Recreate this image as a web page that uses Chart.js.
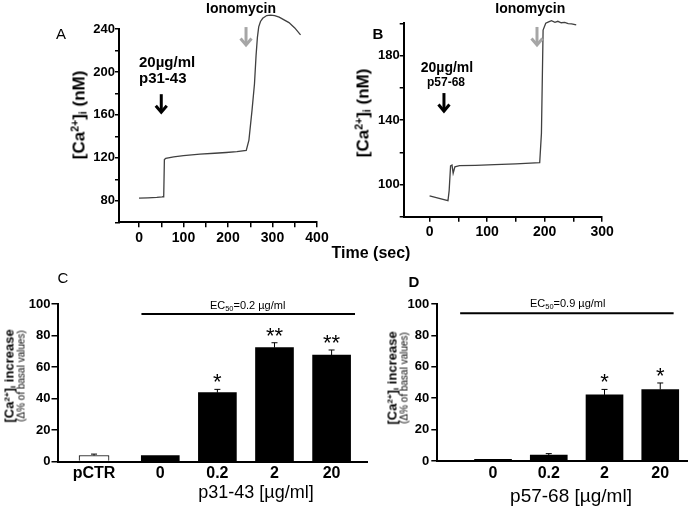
<!DOCTYPE html>
<html><head><meta charset="utf-8">
<script src="https://cdn.jsdelivr.net/npm/chart.js@4/dist/chart.umd.min.js"></script>
<style>
html,body{margin:0;padding:0;background:#fff;}
#wrap{position:relative;width:689px;height:507px;overflow:hidden;font-family:"Liberation Sans",Arial,sans-serif;color:#000;}
canvas{position:absolute;left:0;top:0;}
.t{position:absolute;white-space:nowrap;transform:translate(-50%,-50%);line-height:1;}
.r{transform:translate(-50%,-50%) rotate(-90deg);}
sup{font-size:0.62em;vertical-align:0.55em;line-height:0;}
sub{font-size:0.62em;vertical-align:-0.2em;line-height:0;}
</style></head>
<body><div id="wrap">
<canvas id="cA" width="689" height="507"></canvas>
<canvas id="cB" width="689" height="507"></canvas>
<canvas id="cC" width="689" height="507"></canvas>
<canvas id="cD" width="689" height="507"></canvas>
<div class="t" style="left:61px;top:33px;font-size:15px;">A</div>
<div class="t" style="left:378px;top:33px;font-size:15px;font-weight:bold;">B</div>
<div class="t" style="left:63px;top:277px;font-size:15px;">C</div>
<div class="t" style="left:414px;top:281px;font-size:15px;font-weight:bold;">D</div>
<div class="t" style="left:371px;top:253px;font-size:16px;font-weight:bold;">Time (sec)</div>
<div class="t r" style="left:79px;top:114.5px;font-size:17px;font-weight:bold;">[Ca<sup>2+</sup>]<sub>i</sub> (nM)</div>
<div class="t r" style="left:363px;top:112.5px;font-size:17px;font-weight:bold;">[Ca<sup>2+</sup>]<sub>i</sub> (nM)</div>
<div class="t" style="left:256px;top:492px;font-size:18px;">p31-43 [µg/ml]</div>
<div class="t" style="left:571px;top:495px;font-size:19px;">p57-68 [µg/ml]</div>
<div class="t r" style="left:14.5px;top:376px;text-align:center;"><div style="font-size:13px;font-weight:bold;line-height:12px;">[Ca<sup>2+</sup>]<sub>i</sub> increase</div><div style="font-size:10px;line-height:11px;">(Δ% of basal values)</div></div>
<div class="t r" style="left:397.5px;top:378px;text-align:center;"><div style="font-size:13px;font-weight:bold;line-height:12px;">[Ca<sup>2+</sup>]<sub>i</sub> increase</div><div style="font-size:10px;line-height:11px;">(Δ% of basal values)</div></div>
</div>
<script>
// ---------- data ----------
const timeA = [0, 20, 40, 52, 54, 55, 56, 57, 60, 78, 100, 137, 170, 196, 220, 241, 247, 254, 259.5, 263, 266, 269, 273, 278, 287, 296, 305, 315, 326, 337, 350, 363];
const caA   = [82.5, 82.8, 83.2, 83.6, 83.8, 85, 84, 118.5, 119.5, 121, 122, 123.5, 124.3, 125, 125.8, 127, 136.6, 164.5, 189, 215, 232, 242, 247, 250, 252.5, 253, 252.5, 251, 248.5, 246, 241, 234.5];
const timeB = [0, 15, 32, 34, 36.5, 39, 41, 44, 52, 80, 113, 150, 191.5, 194.5, 197.4, 202, 207, 212, 218, 223, 229, 235, 241, 247, 255];
const caB   = [92.9, 91.5, 90, 96, 111.5, 112, 107, 111, 111.7, 111.9, 112.3, 112.8, 113.5, 131.7, 195.8, 200, 200.8, 201.6, 200.6, 201.2, 200.3, 200.5, 199.8, 199.6, 199];

const xTicksA  = [0, 50, 100, 150, 200, 250, 300, 350, 400];
const xLabelsA = [0, 100, 200, 300, 400];
const yTicksA  = [60, 80, 100, 120, 140, 160, 180, 200, 220, 240];
const yLabelsA = [80, 120, 160, 200, 240];
const xTicksB  = [0, 50, 100, 150, 200, 250, 300];
const xLabelsB = [0, 100, 200, 300];
const yTicksB  = [80, 100, 120, 140, 160, 180, 200];
const yLabelsB = [100, 140, 180];

const catC = ['pCTR', '0', '0.2', '2', '20'];
const posC = [-1.16, 0, 1, 2, 3];
const valC = [3.8, 3.8, 43.7, 72.3, 67.6];
const errC = [0.9, 0, 2.1, 3.1, 3.2];
const sigC = ['', '', '*', '**', '**'];

const catD = ['0', '0.2', '2', '20'];
const posD = [0, 1, 2, 3];
const valD = [1.1, 3.8, 42.1, 45.5];
const errD = [0, 0.9, 3.5, 4.2];
const sigD = ['', '', '*', '*'];

const yTicksBar = [0, 20, 40, 60, 80, 100];

// ---------- helpers ----------
const FF = '"Liberation Sans", Arial, sans-serif';
Chart.defaults.font.family = FF;
Chart.defaults.color = '#000';
const PW = 689, PH = 507;
function frame(L, T, R, B, yw, xh) {
  return { padding: { left: L - yw, top: T, right: PW - R, bottom: PH - B - xh } };
}
function drawRich(ctx, parts, cx, cy, size, weight, align) {
  const fontOf = p => `${weight} ${p.sub ? size * 0.68 : size}px ${FF}`;
  let w = 0;
  parts.forEach(p => { ctx.font = fontOf(p); w += ctx.measureText(p.t).width; });
  let x = align === 'left' ? cx : cx - w / 2;
  ctx.textAlign = 'left'; ctx.textBaseline = 'alphabetic';
  const base = cy + size * 0.36;
  parts.forEach(p => {
    ctx.font = fontOf(p);
    ctx.fillText(p.t, x, base + (p.sub ? size * 0.22 : 0));
    x += ctx.measureText(p.t).width;
  });
}
function makeExtras(cfg) {
  return {
    id: 'extras',
    afterDatasetsDraw(chart) {
      const ctx = chart.ctx, ys = chart.scales.y;
      ctx.save();
      chart.data.datasets.forEach((ds, di) => {
        if (!ds.errs) return;
        const meta = chart.getDatasetMeta(di);
        meta.data.forEach((bar, i) => {
          const v = ds.data[i].y, e = ds.errs[i];
          const yTop = ys.getPixelForValue(v + e);
          ctx.strokeStyle = '#000'; ctx.lineWidth = 1;
          if (e > 0) {
            ctx.beginPath();
            ctx.moveTo(bar.x, bar.y); ctx.lineTo(bar.x, yTop);
            ctx.moveTo(bar.x - 3, yTop); ctx.lineTo(bar.x + 3, yTop);
            ctx.stroke();
          }
          if (ds.sig[i]) {
            ctx.fillStyle = '#000';
            ctx.font = `22px ${FF}`;
            ctx.textAlign = 'center'; ctx.textBaseline = 'alphabetic';
            ctx.fillText(ds.sig[i], bar.x, yTop);
          }
        });
      });
      ctx.restore();
    },
    afterDraw(chart) {
      const ctx = chart.ctx, xs = chart.scales.x, ys = chart.scales.y;
      ctx.save();
      (cfg.lines || []).forEach(l => {
        ctx.strokeStyle = '#000'; ctx.lineWidth = 2;
        ctx.beginPath();
        ctx.moveTo(xs.getPixelForValue(l.x1), ys.getPixelForValue(l.y));
        ctx.lineTo(xs.getPixelForValue(l.x2), ys.getPixelForValue(l.y));
        ctx.stroke();
      });
      (cfg.arrows || []).forEach(a => {
        const x = xs.getPixelForValue(a.x), y1 = ys.getPixelForValue(a.from), y2 = ys.getPixelForValue(a.to);
        ctx.strokeStyle = a.color; ctx.lineWidth = 3; ctx.lineCap = 'butt'; ctx.lineJoin = 'miter';
        ctx.beginPath(); ctx.moveTo(x, y1); ctx.lineTo(x, y2 - 2); ctx.stroke();
        ctx.beginPath(); ctx.moveTo(x - 5.5, y2 - 8.5); ctx.lineTo(x, y2 - 2); ctx.lineTo(x + 5.5, y2 - 8.5); ctx.stroke();
      });
      (cfg.texts || []).forEach(t => {
        ctx.fillStyle = '#000';
        drawRich(ctx, t.parts, xs.getPixelForValue(t.x), ys.getPixelForValue(t.y), t.size, t.weight || 'normal', t.align || 'center');
      });
      ctx.restore();
    }
  };
}
function tickAxis(ticksArr, labelsArr, size, tl, pad, fitKey, fitVal) {
  return {
    afterFit: s => { s[fitKey] = fitVal; },
    afterBuildTicks: s => { s.ticks = ticksArr.map(v => ({ value: v })); },
    ticks: { autoSkip: false, maxRotation: 0, padding: pad, color: '#000',
      font: { size: size, weight: 'bold' },
      callback: v => labelsArr.includes(v) ? String(v) : '' },
    grid: { drawOnChartArea: false, drawTicks: true, tickLength: tl, color: '#000', lineWidth: 1.5 },
    border: { display: true, color: '#000', width: 2 }
  };
}
const baseOpts = { responsive: false, animation: false, events: [] };
const noLegend = { legend: { display: false }, tooltip: { enabled: false } };

// ---------- Panel A ----------
new Chart(document.getElementById('cA'), {
  type: 'line',
  data: { datasets: [{ data: timeA.map((t, i) => ({ x: t, y: caA[i] })), borderColor: '#404040', borderWidth: 1.3, pointRadius: 0, tension: 0, clip: false, fill: false }] },
  options: Object.assign({}, baseOpts, {
    layout: frame(119, 29, 317, 222.3, 45, 30),
    plugins: noLegend,
    scales: {
      x: Object.assign({ type: 'linear', min: -45, max: 400 }, tickAxis(xTicksA, xLabelsA, 14, 5, 2, 'height', 30)),
      y: Object.assign({ type: 'linear', min: 60, max: 240 }, tickAxis(yTicksA, yLabelsA, 13, 4, 0, 'width', 45))
    }
  }),
  plugins: [makeExtras({
    arrows: [{ x: 50, from: 179.3, to: 160.7, color: '#000' }, { x: 240.5, from: 241.8, to: 223.2, color: '#a6a6a6' }],
    texts: [
      { parts: [{ t: '20µg/ml' }], x: 0, y: 209.2, size: 15, weight: 'bold', align: 'left' },
      { parts: [{ t: 'p31-43' }], x: 0, y: 194.3, size: 15, weight: 'bold', align: 'left' },
      { parts: [{ t: 'Ionomycin' }], x: 229.3, y: 259.5, size: 14, weight: 'bold' }
    ]
  })]
});

// ---------- Panel B ----------
new Chart(document.getElementById('cB'), {
  type: 'line',
  data: { datasets: [{ data: timeB.map((t, i) => ({ x: t, y: caB[i] })), borderColor: '#404040', borderWidth: 1.3, pointRadius: 0, tension: 0, clip: false, fill: false }] },
  options: Object.assign({}, baseOpts, {
    layout: frame(403.7, 23.25, 602.1, 216.75, 45, 30),
    plugins: noLegend,
    scales: {
      x: Object.assign({ type: 'linear', min: -45, max: 300 }, tickAxis(xTicksB, xLabelsB, 14, 5, 2, 'height', 30)),
      y: Object.assign({ type: 'linear', min: 80, max: 200 }, tickAxis(yTicksB, yLabelsB, 13, 4, 0, 'width', 45))
    }
  }),
  plugins: [makeExtras({
    arrows: [{ x: 25, from: 156.7, to: 144.3, color: '#000' }, { x: 186.8, from: 197.7, to: 185.3, color: '#a6a6a6' }],
    texts: [
      { parts: [{ t: '20µg/ml' }], x: 30.3, y: 173, size: 14, weight: 'bold' },
      { parts: [{ t: 'p57-68' }], x: 28.5, y: 163.6, size: 12, weight: 'bold' },
      { parts: [{ t: 'Ionomycin' }], x: 175.1, y: 209.5, size: 14, weight: 'bold' }
    ]
  })]
});

// ---------- bar panels ----------
function barChart(id, cats, pos, vals, errs, sigs, hasControl, xmin, xmax, area, thick, yTl, yPad, xPad, ec) {
  const datasets = [];
  const start = hasControl ? 1 : 0;
  if (hasControl) {
    datasets.push({ data: [{ x: pos[0], y: vals[0] }], errs: [errs[0]], sig: [sigs[0]],
      backgroundColor: '#fff', borderColor: '#000', borderWidth: 1, barThickness: 30, grouped: false });
  }
  datasets.push({ data: pos.slice(start).map((x, i) => ({ x: x, y: vals[i + start] })),
    errs: errs.slice(start), sig: sigs.slice(start),
    backgroundColor: '#000', borderColor: '#000', borderWidth: 0, barThickness: thick, grouped: false });
  const yAx = tickAxis(yTicksBar, yTicksBar, 13, yTl, yPad, 'width', 45);
  new Chart(document.getElementById(id), {
    type: 'bar',
    data: { datasets: datasets },
    options: Object.assign({}, baseOpts, {
      layout: frame(area[0], area[1], area[2], area[3], 45, 30),
      plugins: noLegend,
      scales: {
        x: { type: 'linear', min: xmin, max: xmax, offset: false,
          afterFit: s => { s.height = 30; },
          afterBuildTicks: s => { s.ticks = pos.map(v => ({ value: v })); },
          ticks: { autoSkip: false, maxRotation: 0, padding: xPad, color: '#000', font: { size: 16, weight: 'bold' },
            callback: (v, i) => cats[i] },
          grid: { display: false, offset: false, drawTicks: false },
          border: { display: true, color: '#000', width: 2 } },
        y: Object.assign({ type: 'linear', min: 0, max: 100 }, yAx)
      }
    }),
    plugins: [makeExtras(ec)]
  });
}

barChart('cC', catC, posC, valC, errC, sigC, true, -1.8, 3.62, [57.5, 304, 367, 461.5], 38, 6, 1, 2, {
  lines: [{ x1: -0.33, x2: 3.41, y: 93.7 }],
  texts: [{ parts: [{ t: 'EC' }, { t: '50', sub: true }, { t: '=0.2 µg/ml' }], x: 1.53, y: 99.4, size: 11 }]
});
barChart('cD', catD, posD, valD, errD, sigD, false, -1.0, 3.48, [437.3, 304, 687, 461], 37, 6, 2, 3, {
  lines: [{ x1: -0.59, x2: 3.24, y: 94.1 }],
  texts: [{ parts: [{ t: 'EC' }, { t: '50', sub: true }, { t: '=0.9 µg/ml' }], x: 1.34, y: 100.6, size: 11 }]
});
</script>
</body></html>
